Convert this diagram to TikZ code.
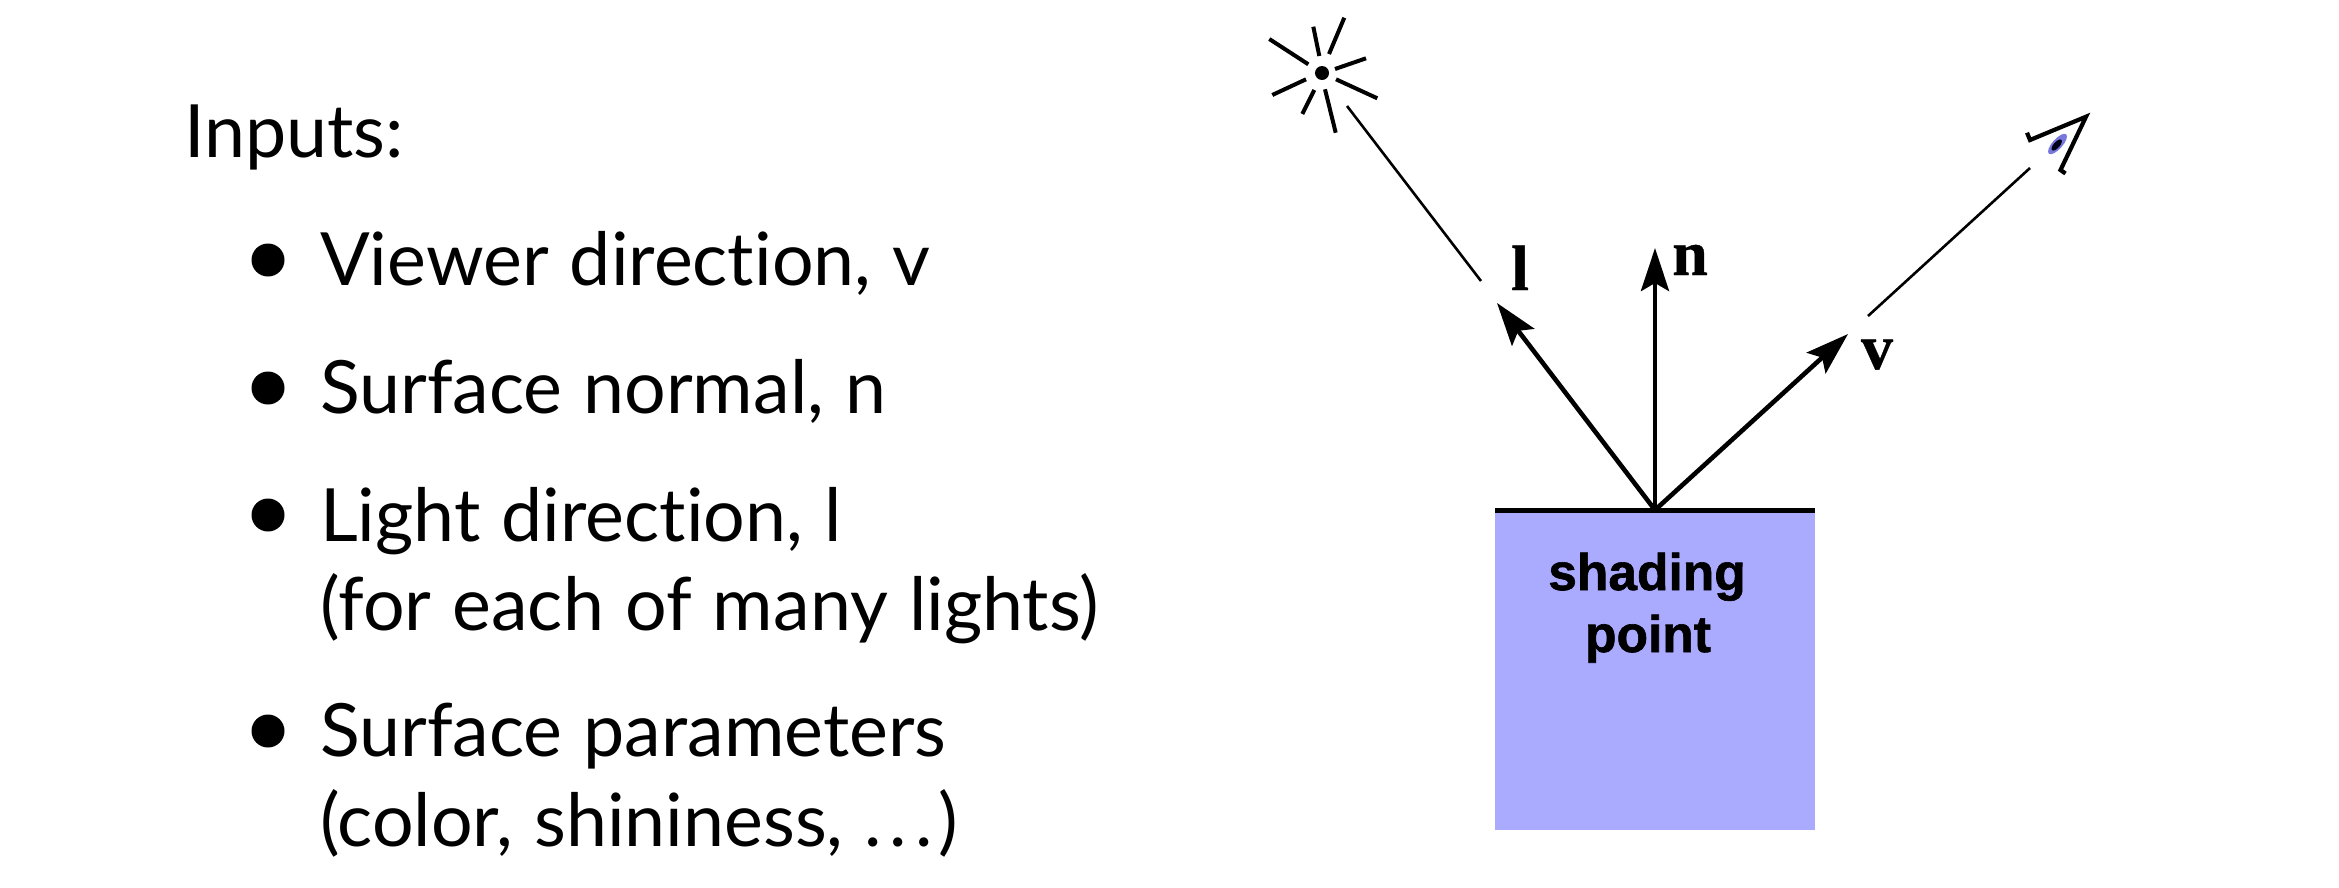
\documentclass[tikz,border=0pt]{standalone}
\usepackage{fontspec}
\usetikzlibrary{arrows.meta}
\setmainfont{Lato}[Ligatures={NoCommon},WordSpace=1.12]
\newfontfamily\serifb{Liberation Serif}[BoldFont={Liberation Serif Bold},BoldFeatures={FakeBold=0.6}]
\newfontfamily\sansb{Liberation Sans}[BoldFont={Liberation Sans Bold},BoldFeatures={FakeBold=1.2}]
\definecolor{surf}{HTML}{AAAAFF}
\definecolor{iris}{HTML}{7777DD}
\tikzset{
  x=1pt,y=-1pt,
  body/.style={anchor=base west,inner sep=0pt,font=\fontsize{73.5}{89}\selectfont},
  bulletdot/.style={circle,fill=black,minimum size=33pt,inner sep=0pt},
  veclabel/.style={anchor=base,inner sep=0pt,font=\fontsize{64}{64}\serifb\bfseries},
  shadelabel/.style={anchor=base,inner sep=0pt,font=\fontsize{51.5}{51.5}\sansb\bfseries},
  vec/.style={line width=4.6pt,-{Stealth[length=43pt,width=28pt,inset=8pt]}},
  thin line/.style={line width=2.6pt},
  ray/.style={line width=4pt},
  eyeline/.style={line width=4.2pt},
}
\begin{document}
\begin{tikzpicture}
\useasboundingbox (0,0) rectangle (2339,887);
\fill[white] (0,0) rectangle (2339,887);
% text
\node[body] (inputs) at (184,157) {Inputs:};
\node[bulletdot] (b1) at (268,260) {};
\node[body] (t1) at (320,285) {Viewer direction, v};
\node[bulletdot] (b2) at (268,388) {};
\node[body] (t2) at (320,413) {Surface normal, n};
\node[bulletdot] (b3) at (268,515) {};
\node[body] (t3) at (320,541) {Light direction, l};
\node[body] (t3b) at (320,630) {(for each of many lights)};
\node[bulletdot] (b4) at (268,731) {};
\node[body] (t4) at (320,756) {Surface parameters};
\node[body] (t4b) at (320,846) {(color, shininess, .\kern8pt.\kern8pt.\kern6pt)};
% surface
\node[fill=surf,minimum width=320pt,minimum height=322pt,inner sep=0pt,anchor=north west] (box) at (1495,508) {};
\draw[line width=5.2pt] (box.north west)++(0,2.5) coordinate (sl) -- (box.north east|-sl) coordinate (sr);
\node[shadelabel] (sh) at (1647,590) {shading};
\node[shadelabel] (pt) at (1648,652) {point};
% vectors
\coordinate (o) at (1655,510);
\coordinate (ltip) at (1497,303);
\coordinate (ntip) at (1655,248);
\coordinate (vtip) at (1848,334);
\draw[vec] (o) -- (ltip);
\draw[vec] (o) -- (ntip);
\draw[vec] (o) -- (vtip);
\node[veclabel] (ll) at (1520,290) {l};
\node[veclabel] (nl) at (1690,275) {n};
\node[veclabel] (vl) at (1877,369) {v};
% light
\coordinate (la) at (1347,106);
\coordinate (lb) at (1481,281);
\draw[thin line] (la) -- (lb);
\node[circle,fill=black,minimum size=14pt,inner sep=0pt] (sun) at (1322,73) {};
\draw[ray] (1269.3,39) -- (1308.3,64.3);
\draw[ray] (1313.3,26.7) -- (1319.3,56);
\draw[ray] (1344.3,17.7) -- (1329,54);
\draw[ray] (1366,58.3) -- (1335,69);
\draw[ray] (1377.3,98.3) -- (1336,79.3);
\draw[ray] (1335.7,132.7) -- (1325,89.3);
\draw[ray] (1302.3,114) -- (1314.3,90);
\draw[ray] (1272.3,95) -- (1306,79.3);
% viewer
\coordinate (va) at (1868,316);
\coordinate (vb) at (2030,168);
\draw[thin line] (va) -- (vb);
\fill[iris,rotate around={48:(2057.5,144)}] (2057.5,144) ellipse (13pt and 5pt);
\fill[black!90!blue,rotate around={48:(2056.7,145)}] (2056.7,145) ellipse (7pt and 3pt);
\draw[eyeline,line join=miter] (2027,132.7) -- (2030,140) -- (2086,116.7) -- (2060.5,170) -- (2065.5,173.5);
\end{tikzpicture}
\end{document}
